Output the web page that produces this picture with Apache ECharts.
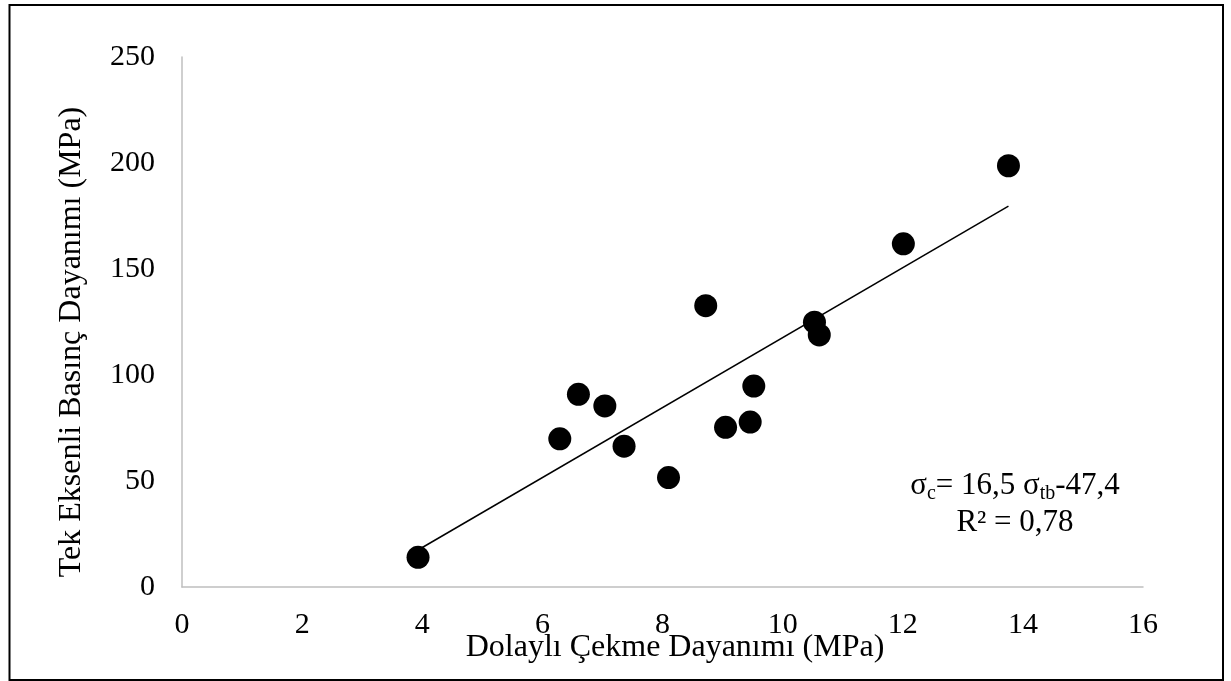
<!DOCTYPE html>
<html>
<head>
<meta charset="utf-8">
<title>Dolaylı Çekme – Tek Eksenli Basınç Dayanımı</title>
<script src="https://cdn.jsdelivr.net/npm/echarts@6/dist/echarts.min.js"></script>
<style>
  html, body { margin: 0; padding: 0; background: #fff; }
  #chart { width: 1231px; height: 681px; }
</style>
</head>
<body>
<div id="chart"></div>
<script>
// Indirect tensile strength (MPa) vs. uniaxial compressive strength (MPa)
const tensileStrength = [3.93, 6.29, 6.60, 7.04, 7.36, 8.10, 8.72, 9.05, 9.46, 9.52, 10.53, 10.61, 12.01, 13.76];
const compressiveStrength = [14.0, 69.9, 90.9, 85.4, 66.4, 51.6, 132.7, 75.3, 77.8, 94.8, 124.9, 118.9, 161.9, 198.7];

// Linear fit coefficients shown in the annotation
const fitSlope = 16.5;
const fitIntercept = -47.4;
const fitR2 = '0,78';

const xTicks = [0, 2, 4, 6, 8, 10, 12, 14, 16];
const yTicks = [0, 50, 100, 150, 200, 250];

const FONT = "'Liberation Serif', 'Times New Roman', serif";

const points = tensileStrength.map((x, i) => [x, compressiveStrength[i]]);
const xMin = Math.min(...tensileStrength);
const xMax = Math.max(...tensileStrength);
const fitLine = [xMin, xMax].map(x => [x, fitSlope * x + fitIntercept]);

const chart = echarts.init(document.getElementById('chart'));
chart.setOption({
  backgroundColor: '#ffffff',
  animation: false,
  grid: { left: 182, right: 88, top: 57, bottom: 94 },
  xAxis: {
    type: 'value',
    min: xTicks[0],
    max: xTicks[xTicks.length - 1],
    interval: xTicks[1] - xTicks[0],
    axisLine: { show: true, lineStyle: { color: '#bfbfbf', width: 1.5 } },
    axisTick: { show: false },
    splitLine: { show: false },
    axisLabel: { color: '#000', fontFamily: FONT, fontSize: 30, margin: 23 }
  },
  yAxis: {
    type: 'value',
    min: yTicks[0],
    max: yTicks[yTicks.length - 1],
    interval: yTicks[1] - yTicks[0],
    axisLine: { show: true, lineStyle: { color: '#bfbfbf', width: 1.5 } },
    axisTick: { show: false },
    splitLine: { show: false },
    axisLabel: { color: '#000', fontFamily: FONT, fontSize: 30, margin: 27 }
  },
  series: [
    {
      type: 'line',
      data: fitLine,
      symbol: 'none',
      lineStyle: { color: '#000', width: 1.5 },
      z: 2
    },
    {
      type: 'scatter',
      data: points,
      symbol: 'circle',
      symbolSize: 23,
      itemStyle: { color: '#000', opacity: 1 },
      z: 3
    }
  ],
  graphic: [
    {
      type: 'rect',
      shape: { x: 9.5, y: 5, width: 1213.5, height: 675 },
      style: { fill: 'none', stroke: '#000', lineWidth: 2 },
      silent: true
    },
    {
      type: 'text',
      x: 675, y: 648,
      style: {
        text: 'Dolaylı Çekme Dayanımı (MPa)',
        fontFamily: FONT, fontSize: 32, fill: '#000',
        align: 'center', verticalAlign: 'middle'
      }
    },
    {
      type: 'text',
      x: 72, y: 342,
      rotation: Math.PI / 2,
      style: {
        text: 'Tek Eksenli Basınç Dayanımı (MPa)',
        fontFamily: FONT, fontSize: 32, fill: '#000',
        align: 'center', verticalAlign: 'middle'
      }
    },
    {
      type: 'text',
      x: 1015, y: 467,
      style: {
        text: '{m|σ}{s|c}{m|= 16,5 σ}{s|tb}{m|-47,4}\n{m|R² = ' + fitR2 + '}',
        align: 'center',
        fontFamily: FONT,
        fill: '#000',
        rich: {
          m: { fontFamily: FONT, fontSize: 31, lineHeight: 37, fill: '#000' },
          s: { fontFamily: FONT, fontSize: 20, lineHeight: 9, verticalAlign: 'bottom', fill: '#000' }
        }
      }
    }
  ]
});
</script>
</body>
</html>
